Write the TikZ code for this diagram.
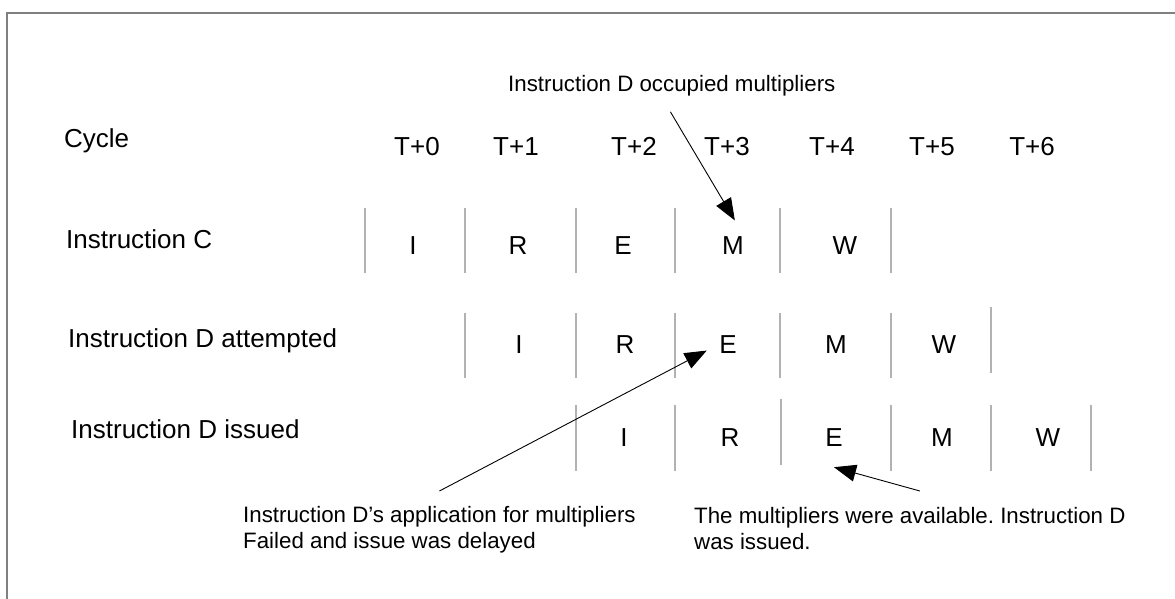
\documentclass[tikz,border=0pt]{standalone}
\usepackage{fontspec}
\setmainfont{Liberation Sans}
\usetikzlibrary{arrows.meta, positioning}

\begin{document}
\begin{tikzpicture}[
    x=1pt, y=-1pt,
    rowlabel/.style={anchor=base west, inner sep=0pt, font=\fontsize{26}{31}\selectfont},
    cyclelabel/.style={anchor=base, inner sep=0pt, font=\fontsize{26}{31}\selectfont},
    stage/.style={anchor=base, inner sep=0pt, font=\fontsize{26}{31}\selectfont},
    note/.style={inner sep=0pt, align=left, font=\fontsize{22.3}{26}\selectfont\frenchspacing},
    divider/.style={draw=gray!60, line width=1.3pt},
    frame/.style={draw=gray, line width=2pt},
    pointer/.style={-{Triangle[length=22pt, width=17pt]}, line width=0.9pt, black}
]

\useasboundingbox (0,0) rectangle (1175,599);

% --- Frame ---
\draw[frame] (7,599) -- (7,13) -- (1175,13);

% --- Labels on the left ---
\node[rowlabel] (cycle) at (64,148) {Cycle};
\node[rowlabel] (instC) at (66,248) {Instruction C};
\node[rowlabel] (instDa) at (68,347) {Instruction D attempted};
\node[rowlabel] (instDi) at (71,438) {Instruction D issued};

% --- Cycles ---
\foreach \t/\x in {0/417, 1/516, 2/634, 3/727, 4/832, 5/932, 6/1032}
  \node[cyclelabel] (t\t) at (\x,156) {T+\t};

% --- Instruction C ---
\foreach \s/\x in {I/413, R/518, E/623, M/733, W/845}
  \node[stage] (\s C) at (\x,254) {\s};
\foreach \x in {365, 465, 576, 675, 780, 891}
  \draw[divider] (\x,208) -- (\x,273);

% --- Instruction D attempted ---
\foreach \s/\x in {I/519, R/625, E/728, M/836, W/944}
  \node[stage] (\s Da) at (\x,353) {\s};
\foreach \x in {465, 576, 675, 780, 891}
  \draw[divider] (\x,313) -- (\x,378);
\draw[divider] (991,307) -- (991,373);

% --- Instruction D issued ---
\foreach \s/\x in {I/624, R/730, E/834, M/942, W/1048}
  \node[stage] (\s Di) at (\x,446) {\s};
\foreach \x in {576, 675, 891, 991, 1091}
  \draw[divider] (\x,405) -- (\x,471);
\draw[divider] (781,399) -- (781,465);

% --- Notes ---
\node[note, anchor=base west] (occNote) at (508,92) {Instruction D occupied multipliers};
\node[note, anchor=north west] (lateNote) at (243,506)
  {Instruction D’s application for multipliers\\Failed and issue was delayed};
\node[note, anchor=north west] (availNote) at (694,507)
  {The multipliers were available. Instruction D\\was issued.};

% --- Arrows ---
\draw[pointer, shorten >=18pt] ([xshift=-1.4pt, yshift=-15pt]occNote.south) -- (MC.north east);
\draw[pointer, shorten >=14pt] ([yshift=15pt]lateNote.north) -- (EDa.west);
\draw[pointer] ([xshift=10pt, yshift=16pt]availNote.north) -- ([yshift=-21pt]EDi.south);

\end{tikzpicture}
\end{document}
